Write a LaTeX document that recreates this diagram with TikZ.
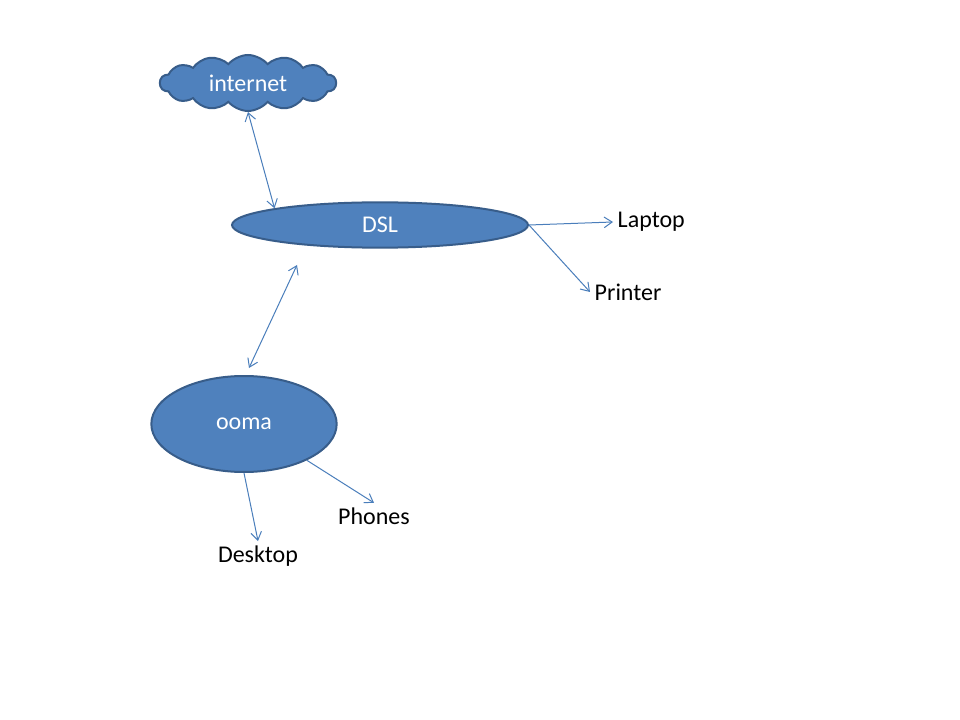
\documentclass[tikz,border=0pt]{standalone}
\usepackage{fontspec}
\setmainfont{Carlito}
\usetikzlibrary{shapes.geometric, shapes.symbols, arrows.meta}
\definecolor{boxfill}{HTML}{4F81BD}
\definecolor{boxline}{HTML}{385D8A}
\definecolor{wire}{HTML}{4A7EBB}

\begin{document}
\begin{tikzpicture}[x=0.75pt, y=-0.75pt, font=\fontsize{18}{22}\selectfont,
		blob/.style={ellipse, fill=boxfill, draw=boxline, line width=1.5pt, text=white, inner sep=0pt},
		link/.style={wire, line width=0.75pt, -{Straight Barb[length=6pt, width=8pt]}},
		twoway/.style={link, {Straight Barb[length=6pt, width=8pt]}-{Straight Barb[length=6pt, width=8pt]}}]
	\useasboundingbox [fill=white] (0, 0) rectangle (960, 720);
	\node [cloud, cloud puffs=14, cloud puff arc=100, aspect=3.4, fill=boxfill, draw=boxline,
		line width=1.5pt, text=white, minimum width=132pt, minimum height=42pt, inner sep=0pt]
		(inet) at (248, 83) {internet};
	\node [blob, minimum width=222pt, minimum height=34pt] (dsl) at (380, 225) {DSL};
	\node [blob, minimum width=139pt, minimum height=72pt] (ooma) at (244, 424) {ooma};
	\node [right] (laptop) at (613, 222) {Laptop};
	\node [right] (printer) at (590, 292) {Printer};
	\node (phones) at (374, 516) {Phones};
	\node (desktop) at (258, 556) {Desktop};
	\coordinate (top) at (297, 265);
	\coordinate (bottom) at (249, 368);
	\draw [twoway] (inet.south) -- (dsl.171);
	\draw [twoway] (top) -- (bottom);
	\draw [link] (dsl.east) -- (laptop.west);
	\draw [link] (dsl.east) -- (printer.west);
	\draw [link] (ooma.-30) -- (phones.north);
	\draw [link] (ooma.south) -- (desktop.north);
\end{tikzpicture}
\end{document}
